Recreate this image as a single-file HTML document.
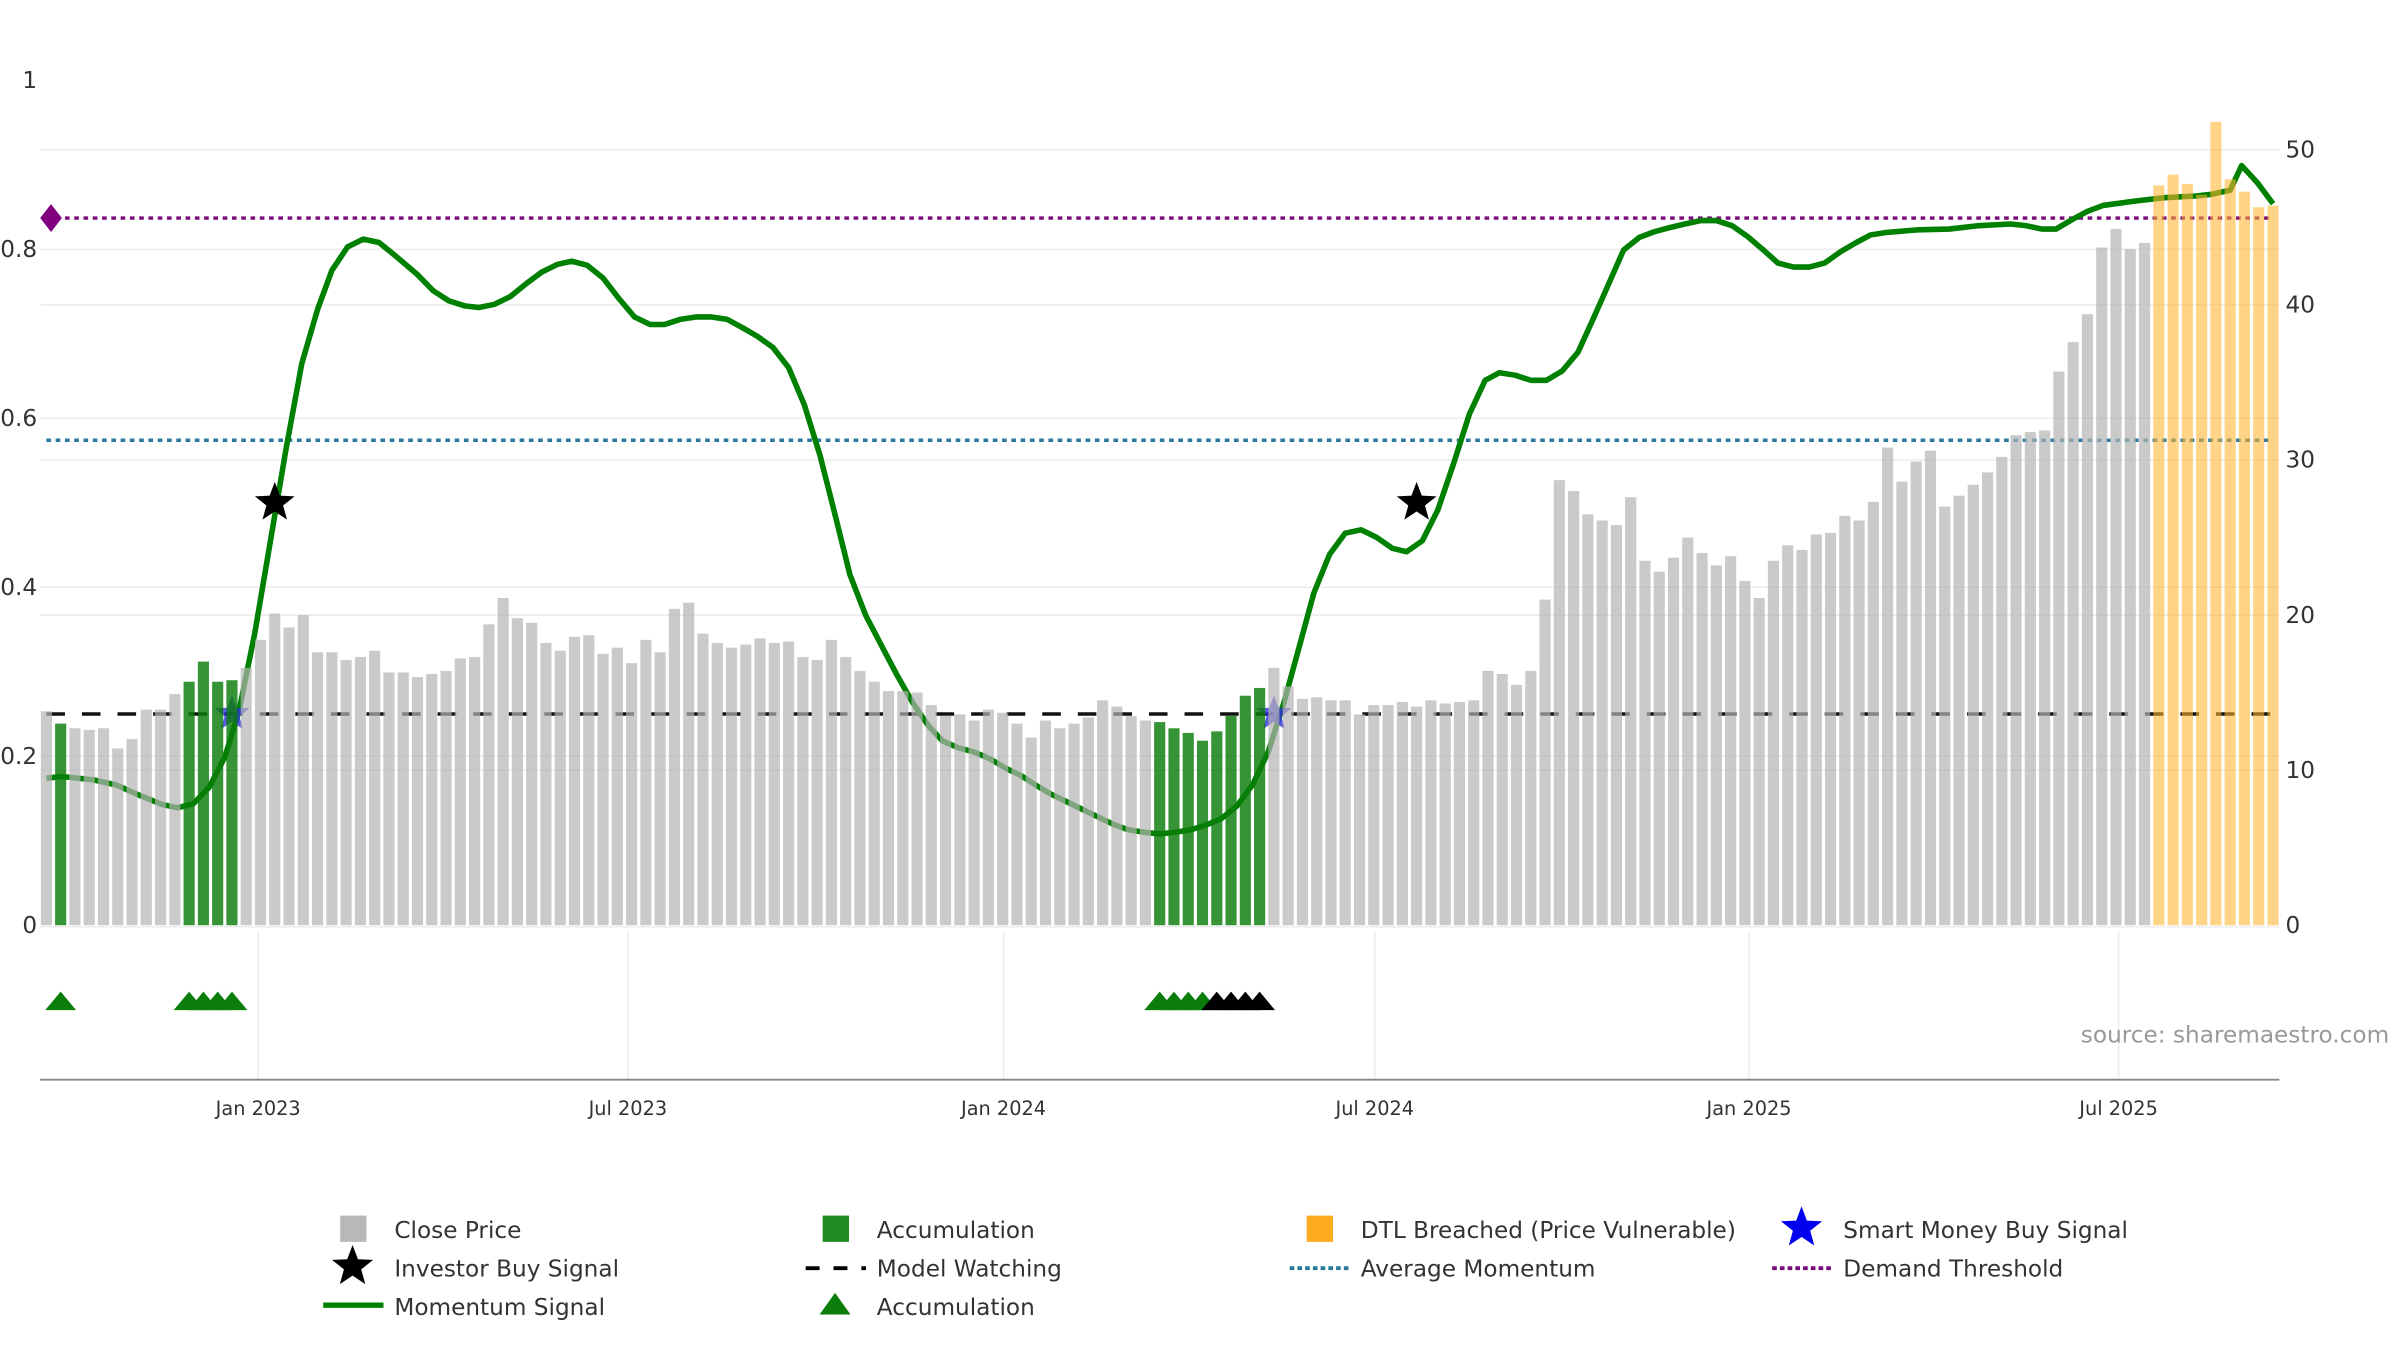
<!DOCTYPE html>
<html><head><meta charset="utf-8"><title>Momentum chart</title>
<style>
html,body{margin:0;padding:0;background:#fff;}
svg{display:block;font-family:"DejaVu Sans","Liberation Sans",sans-serif;}
</style></head>
<body>
<svg id="chart" width="2400" height="1350" viewBox="0 0 1552 874" preserveAspectRatio="none" xmlns="http://www.w3.org/2000/svg">
<g id="grid"></g>
<g id="hlines"></g>
<g id="momentum"></g>
<g id="bars"></g>
<g id="markers"></g>
<g id="axes"></g>
<text x="1545" y="675" text-anchor="end" font-size="15" fill="#999">source: sharemaestro.com</text>
<g id="legend"></g>
</svg>
<script>
// ---- data ----
const closePrice = [
13.8,13.0,12.7,12.6,12.7,11.4,12.0,13.9,13.9,14.9,
15.7,17.0,15.7,15.8,16.6,18.4,20.1,19.2,20.0,17.6,
17.6,17.1,17.3,17.7,16.3,16.3,16.0,16.2,16.4,17.2,
17.3,19.4,21.1,19.8,19.5,18.2,17.7,18.6,18.7,17.5,
17.9,16.9,18.4,17.6,20.4,20.8,18.8,18.2,17.9,18.1,
18.5,18.2,18.3,17.3,17.1,18.4,17.3,16.4,15.7,15.1,
15.1,15.0,14.2,13.5,13.6,13.2,13.9,13.7,13.0,12.1,
13.2,12.7,13.0,13.4,14.5,14.1,13.5,13.2,13.1,12.7,
12.4,11.9,12.5,13.5,14.8,15.3,16.6,15.4,14.6,14.7,
14.5,14.5,13.6,14.2,14.2,14.4,14.1,14.5,14.3,14.4,
14.5,16.4,16.2,15.5,16.4,21.0,28.7,28.0,26.5,26.1,
25.8,27.6,23.5,22.8,23.7,25.0,24.0,23.2,23.8,22.2,
21.1,23.5,24.5,24.2,25.2,25.3,26.4,26.1,27.3,30.8,
28.6,29.9,30.6,27.0,27.7,28.4,29.2,30.2,31.6,31.8,
31.9,35.7,37.6,39.4,43.7,44.9,43.6,44.0,47.7,48.4,
47.8,47.1,51.8,48.1,47.3,46.3,46.4];
const accumWeeks = [1,10,11,12,13,78,79,80,81,82,83,84,85];
const dtlWeeks = [148,149,150,151,152,153,154,155,156];
const triGreenWeeks = [1,10,11,12,13,78,79,80,81];
const triBlackWeeks = [82,83,84,85];
const momWeek = [0,1.1,3.3,4.9,6.5,8.1,9.2,10.3,11.4,12.5,13.5,14.6,15.7,16.8,17.9,19.0,20.0,21.1,22.2,23.3,24.4,26.0,27.1,28.2,29.3,30.3,31.4,32.5,33.6,34.7,35.8,36.8,37.9,39.0,40.1,41.2,42.3,43.3,44.4,45.5,46.6,47.7,48.8,49.8,50.9,52.0,53.1,54.2,55.3,56.3,57.4,58.5,59.6,60.7,61.8,62.8,63.9,65.0,66.1,67.2,68.3,69.3,70.4,71.5,72.6,73.7,74.8,75.8,76.9,78.0,79.1,80.2,81.3,82.3,83.4,84.5,85.6,86.7,87.8,88.8,89.9,91.0,92.1,93.2,94.3,95.3,96.4,97.5,98.6,99.7,100.8,101.8,102.9,104.0,105.1,106.2,107.3,108.3,109.4,110.5,111.6,112.7,113.8,114.8,115.9,117.0,118.1,119.2,120.3,121.3,122.4,123.5,124.6,125.7,126.8,127.8,128.9,131.1,133.3,135.4,137.6,138.7,139.8,140.8,141.9,143.0,144.1,146.3,148.4,150.6,151.7,153.0,153.8,154.9,156.0];
const momValue = [0.174,0.176,0.172,0.166,0.154,0.143,0.139,0.144,0.163,0.199,0.254,0.346,0.455,0.565,0.665,0.729,0.775,0.803,0.812,0.808,0.793,0.770,0.751,0.739,0.733,0.731,0.735,0.744,0.759,0.773,0.782,0.786,0.781,0.766,0.742,0.720,0.711,0.711,0.717,0.720,0.720,0.717,0.707,0.697,0.684,0.660,0.616,0.556,0.483,0.415,0.367,0.331,0.296,0.263,0.236,0.218,0.210,0.205,0.197,0.186,0.177,0.166,0.155,0.146,0.137,0.128,0.119,0.113,0.110,0.108,0.110,0.113,0.119,0.126,0.141,0.166,0.205,0.263,0.331,0.393,0.439,0.464,0.468,0.459,0.446,0.442,0.455,0.492,0.547,0.605,0.645,0.654,0.651,0.645,0.645,0.656,0.678,0.715,0.757,0.799,0.814,0.821,0.826,0.830,0.834,0.834,0.828,0.815,0.799,0.784,0.779,0.779,0.784,0.797,0.808,0.817,0.820,0.823,0.824,0.828,0.830,0.828,0.824,0.824,0.835,0.845,0.852,0.857,0.861,0.863,0.865,0.870,0.899,0.879,0.854,0.830];
const investorWeeks = [16,96];
const investorValues = [0.5,0.5];
const smartWeeks = [13,86];
const smartValues = [0.25,0.25];
const demandThreshold = 0.837;
const avgMomentum = 0.574;
const modelWatching = 0.25;
const leftTicks = [0,0.2,0.4,0.6,0.8,1];
const leftTickLabels = ["0","0.2","0.4","0.6","0.8","1"];
const rightTicks = [0,10,20,30,40,50];
const xTickWeeks = [14.84,40.74,67.06,93.07,119.29,145.18];
const xTickLabels = ["Jan 2023","Jul 2023","Jan 2024","Jul 2024","Jan 2025","Jul 2025"];

// ---- scales ----
const NS="http://www.w3.org/2000/svg";
const X0=30, DX=9.23, Y0=599;
const xW = w => X0 + DX*w;
const yL = v => Y0 - v*547;
const yR = v => Y0 - v*10.04;
function mk(tag, attrs, parent){const e=document.createElementNS(NS,tag);for(const k in attrs)e.setAttribute(k,attrs[k]);if(parent)parent.appendChild(e);return e;}
function starPath(cx,cy,r){let d="";for(let i=0;i<10;i++){const rr=i%2?r*0.42:r;const a=-Math.PI/2+i*Math.PI/5;d+=(i?"L":"M")+(cx+rr*Math.cos(a)).toFixed(2)+" "+(cy+rr*Math.sin(a)).toFixed(2);}return d+"Z";}

const grid=document.getElementById('grid');
rightTicks.slice(1).forEach(t=>{const l=mk('line',{x1:26,x2:1474,y1:yR(t),y2:yR(t),stroke:'#ececec','stroke-width':1},grid);

});
leftTicks.slice(1,5).forEach(t=>{const l=mk('line',{x1:26,x2:1474,y1:yL(t),y2:yL(t),stroke:'#ececec','stroke-width':1},grid);

});
mk('line',{x1:26,x2:1474,y1:Y0+1,y2:Y0+1,stroke:'#ececec','stroke-width':1},grid);
xTickWeeks.forEach(w=>{const l=mk('line',{x1:xW(w),x2:xW(w),y1:603,y2:699,stroke:'#ececec','stroke-width':1},grid);

});

// reference lines
const hl=document.getElementById('hlines');
let e;
e=mk('line',{x1:30,x2:1470,y1:yL(demandThreshold),y2:yL(demandThreshold),stroke:'#7a0a7a','stroke-width':2.2,'stroke-dasharray':'3 3'},hl);


e=mk('path',{d:`M26 ${yL(demandThreshold)} L33 ${yL(demandThreshold)-9} L40 ${yL(demandThreshold)} L33 ${yL(demandThreshold)+9}Z`,fill:'#800080'},hl);


e=mk('line',{x1:30,x2:1470,y1:yL(avgMomentum),y2:yL(avgMomentum),stroke:'#2a7aa0','stroke-width':2.2,'stroke-dasharray':'3 3'},hl);


e=mk('line',{x1:30,x2:1470,y1:yL(modelWatching),y2:yL(modelWatching),stroke:'#111','stroke-width':2.2,'stroke-dasharray':'12 11'},hl);



// momentum line
const mg=document.getElementById('momentum');
let d=momWeek.map((w,i)=>(i?'L':'M')+xW(w).toFixed(1)+' '+yL(momValue[i]).toFixed(1)).join(' ');
e=mk('path',{d:d,fill:'none',stroke:'#008000','stroke-width':3.6,'stroke-linejoin':'round'},mg);



// smart money stars (under bars)
const mkg=document.getElementById('markers');
const bg=document.getElementById('bars');
smartWeeks.forEach((w,i)=>{const s=mk('path',{d:starPath(xW(w),yL(smartValues[i]),12),fill:'#3030dd','fill-opacity':0.8},mg);

});

// bars
closePrice.forEach((v,i)=>{
  let fill='#b4b4b4', op=0.7, name='close-price-bar';
  if(accumWeeks.includes(i)){fill='#0a7d0a';op=0.82;name='accumulation-bar';}
  if(dtlWeeks.includes(i)){fill='#ffb52e';op=0.58;name='dtl-breached-bar';}
  const r=mk('rect',{x:(xW(i)-3.6).toFixed(2),y:yR(v).toFixed(2),width:7.2,height:(Y0-yR(v)).toFixed(2),fill:fill,'fill-opacity':op},bg);
  
  
});

// investor stars
investorWeeks.forEach((w,i)=>{const s=mk('path',{d:starPath(xW(w),yL(investorValues[i]),13.5),fill:'#000'},mkg);

});
// triangles
function tri(w,color,name){const cx=xW(w),cy=648;const t=mk('path',{d:`M${cx-10} ${cy+6} L${cx} ${cy-6} L${cx+10} ${cy+6}Z`,fill:color},mkg);

}
triGreenWeeks.forEach(w=>tri(w,'#0a7d0a','accumulation-triangle'));
triBlackWeeks.forEach(w=>tri(w,'#000','watch-triangle'));

// axes
const ax=document.getElementById('axes');
e=mk('line',{x1:26,x2:1474,y1:699,y2:699,stroke:'#888','stroke-width':1.2},ax);


leftTicks.forEach((t,i)=>{const tx=mk('text',{x:24,y:yL(t)+5,'text-anchor':'end','font-size':15,fill:'#333'},ax);tx.textContent=leftTickLabels[i];

});
rightTicks.forEach(t=>{const tx=mk('text',{x:1478,y:yR(t)+5,'font-size':15,fill:'#333'},ax);tx.textContent=String(t);

});
xTickWeeks.forEach((w,i)=>{const tx=mk('text',{x:xW(w),y:722,'text-anchor':'middle','font-size':12.5,fill:'#333'},ax);tx.textContent=xTickLabels[i];

});

// legend
const lg=document.getElementById('legend');
function ltext(x,y,s){const t=mk('text',{x:x,y:y+5.5,'font-size':15,fill:'#333'},lg);t.textContent=s;

}
function litem(nm){const g=mk('g',{},lg);return g;}
let g;
g=litem('legend-close-price');mk('rect',{x:220,y:787,width:17,height:17,fill:'#b8b8b8'},g);ltext(255,796,'Close Price');
g=litem('legend-accumulation-bar');mk('rect',{x:532,y:787,width:17,height:17,fill:'#1f8a1f'},g);ltext(567,796,'Accumulation');
g=litem('legend-dtl-breached');mk('rect',{x:845,y:787,width:17,height:17,fill:'#fcaa1e'},g);ltext(880,796,'DTL Breached (Price Vulnerable)');
g=litem('legend-smart-money');mk('path',{d:starPath(1165,795,14),fill:'#0000ee'},g);ltext(1192,796,'Smart Money Buy Signal');
g=litem('legend-investor-buy');mk('path',{d:starPath(228,820,14),fill:'#000'},g);ltext(255,821,'Investor Buy Signal');
g=litem('legend-model-watching');mk('line',{x1:521,x2:560,y1:821,y2:821,stroke:'#000','stroke-width':2.5,'stroke-dasharray':'9 9'},g);ltext(567,821,'Model Watching');
g=litem('legend-average-momentum');mk('line',{x1:834,x2:872,y1:821,y2:821,stroke:'#2a7aa0','stroke-width':2.5,'stroke-dasharray':'3 2'},g);ltext(880,821,'Average Momentum');
g=litem('legend-demand-threshold');mk('line',{x1:1146,x2:1184,y1:821,y2:821,stroke:'#7a0a7a','stroke-width':2.5,'stroke-dasharray':'3 2'},g);ltext(1192,821,'Demand Threshold');
g=litem('legend-momentum-signal');mk('line',{x1:209,x2:248,y1:845,y2:845,stroke:'#008000','stroke-width':3.5},g);ltext(255,846,'Momentum Signal');
g=litem('legend-accumulation-triangle');mk('path',{d:'M530 851 L540 837 L550 851Z',fill:'#0a7d0a'},g);ltext(567,846,'Accumulation');
</script>
</body></html>
